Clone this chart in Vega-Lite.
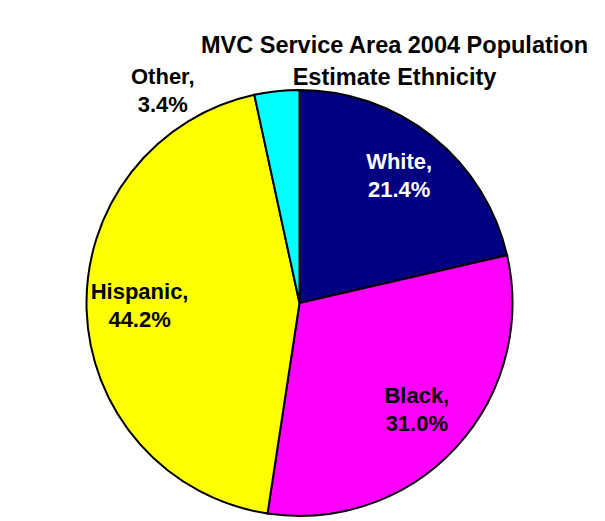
{
  "$schema": "https://vega.github.io/schema/vega-lite/v6.json",
  "autosize": {"type": "none"},
  "width": 587,
  "height": 586,
  "padding": {"left": 6, "top": 10, "right": 12, "bottom": 0},
  "background": "white",
  "config": {
    "view": {"stroke": null},
    "font": "Liberation Sans"
  },
  "title": {
    "text": ["MVC Service Area 2004 Population", "Estimate Ethnicity"],
    "font": "Liberation Sans",
    "fontSize": 23.5,
    "fontWeight": "bold",
    "lineHeight": 32,
    "anchor": "middle",
    "frame": "group",
    "dx": 95,
    "offset": -79,
    "color": "black"
  },
  "data": {
    "values": [
      {"cat": "White", "value": 21.4, "rank": 1, "label": "White,\n21.4%"},
      {"cat": "Black", "value": 31.0, "rank": 2, "label": "Black,\n31.0%"},
      {"cat": "Hispanic", "value": 44.2, "rank": 3, "label": "Hispanic,\n44.2%"},
      {"cat": "Other", "value": 3.4, "rank": 4, "label": "Other,\n3.4%"}
    ]
  },
  "encoding": {
    "theta": {"field": "value", "type": "quantitative", "stack": true},
    "order": {"field": "rank", "type": "ordinal"}
  },
  "layer": [
    {
      "mark": {"type": "arc", "outerRadius": 213, "stroke": "black", "strokeWidth": 2},
      "encoding": {
        "color": {
          "field": "cat",
          "type": "nominal",
          "scale": {"domain": ["White", "Black", "Hispanic", "Other"], "range": ["#000080", "#FF00FF", "#FFFF00", "#00FFFF"]},
          "legend": null
        }
      }
    },
    {
      "mark": {"type": "text", "radius": 160, "dy": -16, "fontSize": 22, "fontWeight": "bold", "lineBreak": "\n", "lineHeight": 28, "align": "center", "baseline": "middle", "font": "Liberation Sans"},
      "encoding": {
        "text": {"condition": {"test": "datum.cat !== 'Other'", "field": "label"}, "value": ""},
        "color": {"condition": {"test": "datum.cat === 'White'", "value": "white"}, "value": "black"}
      }
    },
    {
      "mark": {"type": "text", "radius": 213, "dx": -114, "dy": -14, "fontSize": 22, "fontWeight": "bold", "lineBreak": "\n", "lineHeight": 28, "align": "center", "baseline": "middle", "font": "Liberation Sans", "color": "black"},
      "encoding": {
        "text": {"condition": {"test": "datum.cat === 'Other'", "field": "label"}, "value": ""}
      }
    }
  ]
}
